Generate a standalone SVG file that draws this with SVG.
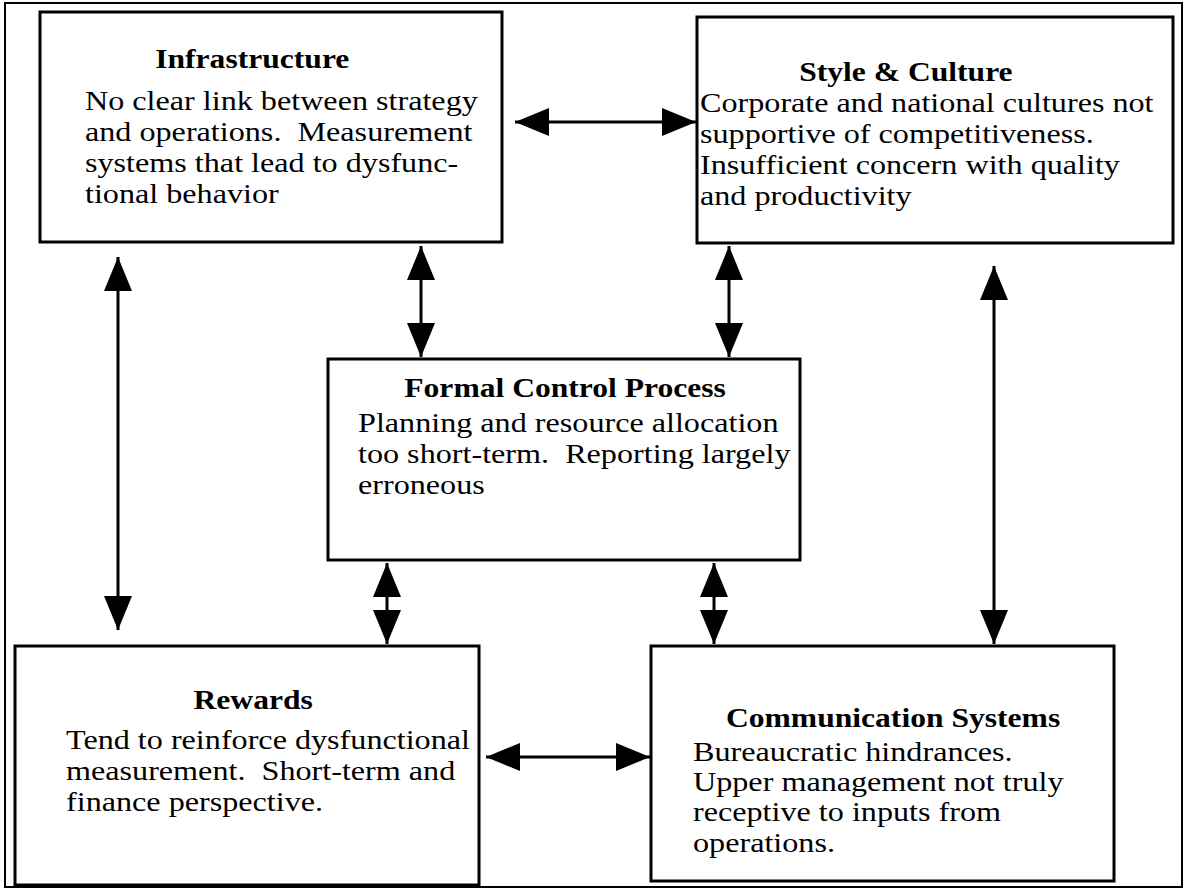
<svg xmlns="http://www.w3.org/2000/svg" width="1185" height="890" viewBox="0 0 1185 890">
  <defs>
    <marker id="head" viewBox="0 0 34 28" refX="34" refY="14" markerWidth="34" markerHeight="28" markerUnits="userSpaceOnUse" orient="auto-start-reverse">
      <path d="M0,0 L34,14 L0,28 Z" fill="#000"/>
    </marker>
    <style>
      .frame { fill: none; stroke: #000; stroke-width: 2; }
      .box { fill: #fff; stroke: #000; stroke-width: 3; }
      .link { fill: none; stroke: #000; stroke-width: 3; marker-start: url(#head); marker-end: url(#head); }
      .t { font-family: "Liberation Serif", "Times New Roman", serif; font-size: 27.5px; fill: #000; }
      .h { font-family: "Liberation Serif", "Times New Roman", serif; font-size: 27px; font-weight: bold; fill: #000; text-anchor: middle; }
    </style>
  </defs>

  <rect width="1185" height="890" fill="#fff"/>
  <rect class="frame" x="5" y="3" width="1177" height="884"/>

  <g id="connectors">
    <line class="link" x1="515" y1="122" x2="696" y2="122"/>
    <line class="link" x1="421" y1="246" x2="421" y2="357"/>
    <line class="link" x1="729" y1="246" x2="729" y2="357"/>
    <line class="link" x1="118" y1="257" x2="118" y2="630"/>
    <line class="link" x1="994" y1="266" x2="994" y2="644"/>
    <line class="link" x1="387" y1="563" x2="387" y2="644"/>
    <line class="link" x1="714" y1="563" x2="714" y2="644"/>
    <line class="link" x1="486" y1="757" x2="650" y2="757"/>
  </g>

  <g id="infrastructure">
    <rect class="box" x="40" y="12" width="462" height="230"/>
    <g transform="translate(85 0) scale(1.17 1)">
      <text class="h" x="143" y="68">Infrastructure</text>
      <text class="t" x="0" y="110">No clear link between strategy</text>
      <text class="t" x="0" y="141">and operations.&#160; Measurement</text>
      <text class="t" x="0" y="172">systems that lead to dysfunc-</text>
      <text class="t" x="0" y="203">tional behavior</text>
    </g>
  </g>

  <g id="style-culture">
    <rect class="box" x="697" y="17" width="476" height="226"/>
    <g transform="translate(700 0) scale(1.17 1)">
      <text class="h" x="176" y="81">Style &amp; Culture</text>
      <text class="t" x="0" y="112">Corporate and national cultures not</text>
      <text class="t" x="0" y="143">supportive of competitiveness.</text>
      <text class="t" x="0" y="174">Insufficient concern with quality</text>
      <text class="t" x="0" y="205">and productivity</text>
    </g>
  </g>

  <g id="formal-control">
    <rect class="box" x="328" y="359" width="472" height="201"/>
    <g transform="translate(358 0) scale(1.17 1)">
      <text class="h" x="177" y="397">Formal Control Process</text>
      <text class="t" x="0" y="432">Planning and resource allocation</text>
      <text class="t" x="0" y="463">too short-term.&#160; Reporting largely</text>
      <text class="t" x="0" y="494">erroneous</text>
    </g>
  </g>

  <g id="rewards">
    <rect class="box" x="15" y="646" width="464" height="239"/>
    <g transform="translate(66 0) scale(1.17 1)">
      <text class="h" x="160" y="709">Rewards</text>
      <text class="t" x="0" y="749">Tend to reinforce dysfunctional</text>
      <text class="t" x="0" y="780">measurement.&#160; Short-term and</text>
      <text class="t" x="0" y="811">finance perspective.</text>
    </g>
  </g>

  <g id="communication">
    <rect class="box" x="651" y="646" width="463" height="235"/>
    <g transform="translate(693 0) scale(1.17 1)">
      <text class="h" x="171" y="727">Communication Systems</text>
      <text class="t" x="0" y="761">Bureaucratic hindrances.</text>
      <text class="t" x="0" y="791">Upper management not truly</text>
      <text class="t" x="0" y="821">receptive to inputs from</text>
      <text class="t" x="0" y="852">operations.</text>
    </g>
  </g>
</svg>
